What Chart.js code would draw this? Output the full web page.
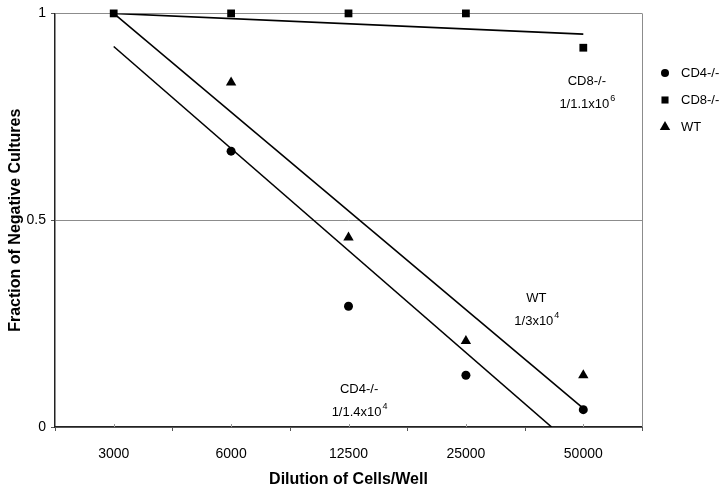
<!DOCTYPE html>
<html>
<head>
<meta charset="utf-8">
<script src="https://cdn.jsdelivr.net/npm/chart.js@4.4.1/dist/chart.umd.min.js"></script>
<style>
  html, body { margin: 0; padding: 0; background: #ffffff; }
  #wrap { width: 728px; height: 493px; }
</style>
</head>
<body>
<div id="wrap"><canvas id="c" width="728" height="493"></canvas></div>
<script>
// ---- data ----
const categories = ["3000", "6000", "12500", "25000", "50000"];
const cd4Values = [null, 0.667, 0.292, 0.125, 0.042];
const cd8Values = [1, 1, 1, 1, 0.917];
const wtValues  = [null, 0.833, 0.458, 0.208, 0.125];
// fitted lines: [x index, y] end points
const cd8Fit = [[0, 1], [4, 0.95]];
const wtFit  = [[0, 1], [4, 0.045]];
const cd4Fit = [[0, 0.92], [3.73, 0]];
const yTicks = [0, 0.5, 1];
const yTickLabels = ["0", "0.5", "1"];
const seriesNames = ["CD4-/-", "CD8-/-", "WT"];
// annotations: [x index, y value, line1, base, superscript]
const notes = [
  [4.03, 0.835, "CD8-/-", "1/1.1x10", "6"],
  [3.6, 0.31, "WT", "1/3x10", "4"],
  [2.09, 0.09, "CD4-/-", "1/1.4x10", "4"]
];

const FONT = "'Liberation Sans', Arial, sans-serif";

function pts(arr) { return arr.map((v, i) => ({x: i, y: v})).filter(p => p.y !== null); }
function fit(arr) { return arr.map(p => ({x: p[0], y: p[1]})); }

const markerDs = (label, data, style, r) => ({
  type: 'scatter', label, data: pts(data), showLine: false, clip: false,
  pointStyle: style, pointRadius: r, pointHoverRadius: r,
  backgroundColor: '#000', borderColor: '#000', borderWidth: 0
});
const lineDs = (data) => ({
  type: 'line', label: '', data: fit(data), showLine: true,
  borderColor: '#000', borderWidth: 1.6, pointRadius: 0, fill: false,
  tension: 0
});

const extras = {
  id: 'extras',
  afterDraw(chart) {
    const {ctx, chartArea: a, scales: {x, y}} = chart;
    ctx.save();
    // right border
    ctx.strokeStyle = '#8c8c8c'; ctx.lineWidth = 1;
    ctx.beginPath(); ctx.moveTo(a.right + 0.5, a.top); ctx.lineTo(a.right + 0.5, a.bottom); ctx.stroke();
    // tick marks at category boundaries and small ones at category centres
    ctx.strokeStyle = '#555';
    for (let i = 0; i <= categories.length; i++) {
      const px = Math.round(x.getPixelForValue(i - 0.5)) + 0.5;
      ctx.beginPath(); ctx.moveTo(px, a.bottom); ctx.lineTo(px, a.bottom + 4); ctx.stroke();
    }
    ctx.strokeStyle = '#999';
    for (let i = 0; i < categories.length; i++) {
      const px = Math.round(x.getPixelForValue(i)) + 0.5;
      ctx.beginPath(); ctx.moveTo(px, a.bottom - 3); ctx.lineTo(px, a.bottom); ctx.stroke();
    }
    // legend
    const lx = a.right + 23;
    const styles = ['circle', 'rect', 'triangle'];
    const radii = [4, 5, 6];
    ctx.font = '13px ' + FONT; ctx.fillStyle = '#000'; ctx.textBaseline = 'middle';
    seriesNames.forEach((n, i) => {
      const ly = 73 + i * 27;
      Chart.helpers.drawPoint(ctx, {pointStyle: styles[i], radius: radii[i], borderWidth: 0}, lx, ly);
      ctx.fillStyle = '#000';
      ctx.fillText(n, lx + 16, ly);
    });
    // annotations
    notes.forEach(nt => {
      const cx = x.getPixelForValue(nt[0]);
      const cy = y.getPixelForValue(nt[1]);
      ctx.font = '13px ' + FONT; ctx.textAlign = 'center'; ctx.textBaseline = 'middle';
      ctx.fillText(nt[2], cx, cy);
      const bw = ctx.measureText(nt[3]).width;
      ctx.font = '9px ' + FONT;
      const sw = ctx.measureText(nt[4]).width;
      const start = cx - (bw + sw) / 2;
      ctx.font = '13px ' + FONT; ctx.textAlign = 'left';
      ctx.fillText(nt[3], start, cy + 23);
      ctx.font = '9px ' + FONT;
      ctx.fillText(nt[4], start + bw + 1, cy + 17);
    });
    ctx.restore();
  }
};

new Chart(document.getElementById('c'), {
  data: {
    datasets: [
      lineDs(cd8Fit), lineDs(wtFit), lineDs(cd4Fit),
      markerDs(seriesNames[0], cd4Values, 'circle', 4.5),
      markerDs(seriesNames[1], cd8Values, 'rect', 5.5),
      markerDs(seriesNames[2], wtValues, 'triangle', 6)
    ]
  },
  options: {
    responsive: false, animation: false, devicePixelRatio: 1,
    layout: { padding: { left: 0, right: 86, top: 10, bottom: 0 } },
    plugins: { legend: { display: false }, tooltip: { enabled: false } },
    scales: {
      x: {
        type: 'linear', min: -0.5, max: 4.5,
        afterBuildTicks: s => { s.ticks = categories.map((c, i) => ({value: i})); },
        afterFit: s => { s.height = 66; },
        grid: { display: false },
        border: { display: true, color: '#222', width: 1.5 },
        ticks: { callback: v => categories[v], color: '#000', font: { family: FONT, size: 14 }, padding: 11, autoSkip: false, maxRotation: 0 },
        title: { display: true, text: 'Dilution of Cells/Well', color: '#000', font: { family: FONT, size: 16, weight: 'bold' }, padding: { top: 0, bottom: 4 } }
      },
      y: {
        type: 'linear', min: 0, max: 1,
        afterBuildTicks: s => { s.ticks = yTicks.map(v => ({value: v})); },
        afterFit: s => { s.width = 55; },
        grid: { color: '#8c8c8c', lineWidth: 1, drawTicks: true, tickLength: 4, tickColor: '#555' },
        border: { display: true, color: '#222', width: 1.5 },
        ticks: { callback: (v) => yTickLabels[yTicks.indexOf(v)], color: '#000', font: { family: FONT, size: 14 }, padding: 5 },
        title: { display: true, text: 'Fraction of Negative Cultures', color: '#000', font: { family: FONT, size: 16, weight: 'bold' }, padding: { top: 6, bottom: 0 } }
      }
    }
  },
  plugins: [extras]
});
</script>
</body>
</html>
